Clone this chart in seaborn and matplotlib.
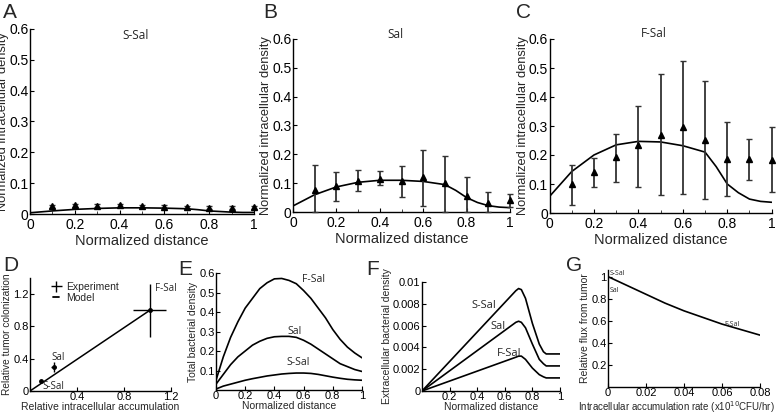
import numpy as np
import pandas as pd
import seaborn as sns
import matplotlib.pyplot as plt
from matplotlib.ticker import FuncFormatter, MultipleLocator
from matplotlib.lines import Line2D

# ---- data: panels A-C (measured points + model) ----
dist_pts = [0.1, 0.2, 0.3, 0.4, 0.5, 0.6, 0.7, 0.8, 0.9, 1.0]

ssal_pts = [0.025, 0.028, 0.027, 0.028, 0.025, 0.023, 0.022, 0.021, 0.021, 0.022]
ssal_lo = [0.020, 0.023, 0.022, 0.023, 0.020, 0.018, 0.017, 0.016, 0.016, 0.017]
ssal_hi = [0.030, 0.033, 0.032, 0.033, 0.030, 0.028, 0.027, 0.026, 0.026, 0.027]

sal_pts = [0.076, 0.090, 0.107, 0.116, 0.107, 0.120, 0.099, 0.056, 0.030, 0.041]
sal_lo = [0.0, 0.039, 0.072, 0.093, 0.053, 0.022, 0.0, 0.0, 0.0, 0.018]
sal_hi = [0.162, 0.139, 0.145, 0.143, 0.159, 0.216, 0.194, 0.120, 0.068, 0.064]

fsal_pts = [0.100, 0.140, 0.193, 0.235, 0.270, 0.298, 0.252, 0.187, 0.187, 0.183]
fsal_lo = [0.029, 0.089, 0.107, 0.089, 0.061, 0.066, 0.048, 0.057, 0.115, 0.072]
fsal_hi = [0.164, 0.189, 0.273, 0.370, 0.479, 0.525, 0.456, 0.315, 0.255, 0.295]

model_x = [0.0, 0.1, 0.2, 0.3, 0.4, 0.5, 0.6, 0.7, 0.75, 0.8, 0.85, 0.9, 0.95, 1.0]
ssal_model = [0.004, 0.010, 0.015, 0.018, 0.020, 0.020, 0.019, 0.017, 0.014, 0.010, 0.008, 0.006, 0.005, 0.005]
sal_model = [0.021, 0.060, 0.087, 0.103, 0.110, 0.110, 0.106, 0.095, 0.075, 0.050, 0.033, 0.022, 0.017, 0.015]
fsal_model = [0.057, 0.143, 0.200, 0.235, 0.247, 0.245, 0.232, 0.210, 0.160, 0.100, 0.070, 0.048, 0.040, 0.037]

# ---- panel D ----
d_names = ["S-Sal", "Sal", "F-Sal"]
d_accum = [0.09, 0.20, 1.02]
d_accum_err = [0.0, 0.02, 0.14]
d_colon = [0.13, 0.30, 1.00]
d_colon_err = [0.0, 0.06, 0.33]
d_model_x = [0.0, 1.02]
d_model_y = [0.0, 1.00]

# ---- panel E ----
e_x = [0.0, 0.05, 0.1, 0.15, 0.2, 0.25, 0.3, 0.35, 0.4, 0.45, 0.5,
       0.55, 0.6, 0.65, 0.7, 0.75, 0.8, 0.85, 0.9, 0.95, 1.0]
e_fsal = [0.05, 0.17, 0.27, 0.35, 0.42, 0.47, 0.52, 0.55, 0.57, 0.572, 0.562,
          0.545, 0.51, 0.47, 0.42, 0.37, 0.31, 0.26, 0.22, 0.19, 0.165]
e_sal = [0.03, 0.08, 0.13, 0.17, 0.20, 0.23, 0.25, 0.265, 0.273, 0.275, 0.275,
         0.27, 0.255, 0.235, 0.21, 0.185, 0.16, 0.135, 0.12, 0.105, 0.095]
e_ssal = [0.005, 0.02, 0.03, 0.04, 0.05, 0.058, 0.065, 0.072, 0.077, 0.082, 0.085,
          0.087, 0.087, 0.085, 0.08, 0.073, 0.066, 0.06, 0.055, 0.052, 0.05]

# ---- panel F ----
f_x = [0.0, 0.68, 0.7, 0.72, 0.75, 0.8, 0.85, 0.88, 0.9, 1.0]
f_ssal = [0.0, 0.0092, 0.0094, 0.0093, 0.0085, 0.0062, 0.0043, 0.0036, 0.0034, 0.0034]
f_sal = [0.0, 0.0063, 0.0064, 0.0063, 0.0058, 0.0043, 0.0029, 0.0025, 0.0023, 0.0023]
f_fsal = [0.0, 0.0031, 0.0032, 0.0032, 0.0029, 0.0021, 0.0015, 0.0013, 0.0012, 0.0012]

# ---- panel G ----
g_rate = [0.0, 0.01, 0.02, 0.03, 0.04, 0.05, 0.06, 0.07, 0.08]
g_flux = [1.0, 0.92, 0.84, 0.76, 0.69, 0.63, 0.57, 0.52, 0.47]

sns.set_style("ticks")
plt.rcParams['font.family'] = ['Liberation Sans', 'DejaVu Sans']
LBL = ['Open Sans', 'DejaVu Sans']

fig = plt.figure(figsize=(7.78, 4.15), dpi=100)
W, H = 778.0, 415.0


def add_ax(l, r, b, t):
    return fig.add_axes([l / W, 1 - b / H, (r - l) / W, (b - t) / H])


fmt = FuncFormatter(lambda v, p: f"{v:g}")


def style(ax, fs):
    sns.despine(ax=ax)
    for s in ax.spines.values():
        s.set_linewidth(1.0)
        s.set_color('black')
    ax.tick_params(direction='in', length=3, width=0.8, pad=1, labelsize=fs, colors='black')
    ax.tick_params(which='minor', direction='in', length=2, width=0.6)
    ax.xaxis.set_major_formatter(fmt)
    ax.yaxis.set_major_formatter(fmt)


# ---- top row ----
top_specs = [
    (add_ax(30, 254, 214, 29), ssal_pts, ssal_lo, ssal_hi, ssal_model, "S-Sal", 0.58),
    (add_ax(293, 510, 212, 39), sal_pts, sal_lo, sal_hi, sal_model, "Sal", 0.615),
    (add_ax(549.5, 771.7, 213, 39), fsal_pts, fsal_lo, fsal_hi, fsal_model, "F-Sal", 0.62),
]
for ax, pts, lo, hi, model, name, ty in top_specs:
    sns.lineplot(x=model_x, y=model, ax=ax, color='black', lw=1.2)
    y = np.array(pts)
    yerr = [y - np.array(lo), np.array(hi) - y]
    ax.errorbar(dist_pts, y, yerr=yerr, fmt='^', color='black', ms=5,
                elinewidth=1.3, capsize=2.2, capthick=1.0, ecolor='#333333',
                clip_on=False, zorder=3)
    ax.set_xlim(0, 1)
    ax.set_ylim(0, 0.6)
    ax.set_xticks([0, 0.2, 0.4, 0.6, 0.8, 1.0])
    ax.set_yticks([0, 0.1, 0.2, 0.3, 0.4, 0.5, 0.6])
    ax.xaxis.set_minor_locator(MultipleLocator(0.1))
    style(ax, 10)
    ax.tick_params(axis='x', pad=3)
    ax.set_xlabel("Normalized distance", fontsize=10.5, labelpad=1)
    ax.set_ylabel("Normalized intracellular density", fontsize=9.3, labelpad=0)
    ax.text(0.47, ty, name, fontsize=8.5, family=LBL, ha='center', va='center')

# keep panel A's y label just inside the left edge
top_specs[0][0].yaxis.set_label_coords(-0.095, 0.5)

# ---- D ----
axd = add_ax(30, 171, 391, 278)
sns.lineplot(x=d_model_x, y=d_model_y, ax=axd, color='black', lw=1.1)
axd.errorbar(d_accum, d_colon, xerr=d_accum_err, yerr=d_colon_err, fmt='o',
             color='black', ms=2.5, elinewidth=1.0, capsize=0, clip_on=False)
axd.set_xlim(0, 1.2)
axd.set_ylim(0, 1.4)
axd.set_xticks([0, 0.4, 0.8, 1.2])
axd.set_yticks([0, 0.4, 0.8, 1.2])
style(axd, 8)
axd.set_xticklabels(["", "0.4", "0.8", "1.2"])
axd.set_xlabel("Relative intracellular accumulation", fontsize=7.5, labelpad=0)
axd.set_ylabel("Relative tumor colonization", fontsize=7.3, labelpad=1)
axd.text(1.06, 1.27, "F-Sal", fontsize=7, family=LBL, ha='left', va='center')
axd.text(0.24, 0.42, "Sal", fontsize=7, family=LBL, ha='center', va='center')
axd.text(0.11, 0.06, "S-Sal", fontsize=7, family=LBL, ha='left', va='center')
exp_h = axd.errorbar([], [], xerr=[], yerr=[], fmt='none', ecolor='black', elinewidth=1.0)
mod_h = Line2D([], [], color='black', lw=1.3)
axd.legend([exp_h, mod_h], ["Experiment", "Model"], loc='upper left', frameon=False,
           fontsize=7.5, handlelength=0.6, handletextpad=0.6, borderaxespad=0.2,
           labelspacing=0.1, bbox_to_anchor=(0.12, 1.02))

# ---- E ----
axe = add_ax(216, 362, 390, 273)
for yy in (e_fsal, e_sal, e_ssal):
    sns.lineplot(x=e_x, y=yy, ax=axe, color='black', lw=1.2)
axe.set_xlim(0, 1)
axe.set_ylim(0, 0.6)
axe.set_xticks([0, 0.2, 0.4, 0.6, 0.8, 1.0])
axe.set_yticks([0.1, 0.2, 0.3, 0.4, 0.5, 0.6])
style(axe, 8)
axe.set_xlabel("Normalized distance", fontsize=7.5, labelpad=0)
axe.set_ylabel("Total bacterial density", fontsize=7.5, labelpad=1)
axe.text(0.67, 0.565, "F-Sal", fontsize=7.5, family=LBL, ha='center', va='center')
axe.text(0.54, 0.30, "Sal", fontsize=7.5, family=LBL, ha='center', va='center')
axe.text(0.56, 0.14, "S-Sal", fontsize=7.5, family=LBL, ha='center', va='center')

# ---- F ----
axf = add_ax(422, 560, 391, 282)
for yy in (f_ssal, f_sal, f_fsal):
    sns.lineplot(x=f_x, y=yy, ax=axf, color='black', lw=1.2)
axf.set_xlim(0, 1)
axf.set_ylim(0, 0.01)
axf.set_xticks([0.2, 0.4, 0.6, 0.8, 1.0])
axf.set_yticks([0, 0.002, 0.004, 0.006, 0.008, 0.01])
style(axf, 8)
axf.set_xlabel("Normalized distance", fontsize=7.5, labelpad=0)
axf.set_ylabel("Extracellular bacterial density", fontsize=7.5, labelpad=1)
axf.text(0.45, 0.0078, "S-Sal", fontsize=8, family=LBL, ha='center', va='center')
axf.text(0.55, 0.0059, "Sal", fontsize=8, family=LBL, ha='center', va='center')
axf.text(0.63, 0.0034, "F-Sal", fontsize=8, family=LBL, ha='center', va='center')

# ---- G ----
axg = add_ax(608, 760, 387, 270)
sns.lineplot(x=g_rate, y=g_flux, ax=axg, color='black', lw=1.2)
axg.set_xlim(0, 0.08)
axg.set_ylim(0, 1.06)
axg.set_xticks([0, 0.02, 0.04, 0.06, 0.08])
axg.set_yticks([0.2, 0.4, 0.6, 0.8, 1.0])
style(axg, 8)
axg.set_xlabel("Intracellular accumulation rate (x10$^{10}$CFU/hr)", fontsize=7, labelpad=1)
axg.xaxis.set_label_coords(0.45, -0.1)
axg.set_ylabel("Relative flux from tumor", fontsize=7.5, labelpad=1)
axg.text(0.0008, 1.03, "S-Sal", fontsize=5, family=LBL, ha='left', va='center')
axg.text(0.0008, 0.87, "Sal", fontsize=5, family=LBL, ha='left', va='center')
axg.text(0.061, 0.57, "F-Sal", fontsize=5, family=LBL, ha='left', va='center')

# ---- panel letters ----
for lt, px, py in [("A", 3, 3), ("B", 263, 3), ("C", 516, 3),
                   ("D", 3, 256), ("E", 178, 260), ("F", 366, 260), ("G", 566, 256)]:
    fig.text(px / W, 1 - py / H, lt, fontsize=15, ha='left', va='top')

fig.savefig("out.png", dpi=100)
